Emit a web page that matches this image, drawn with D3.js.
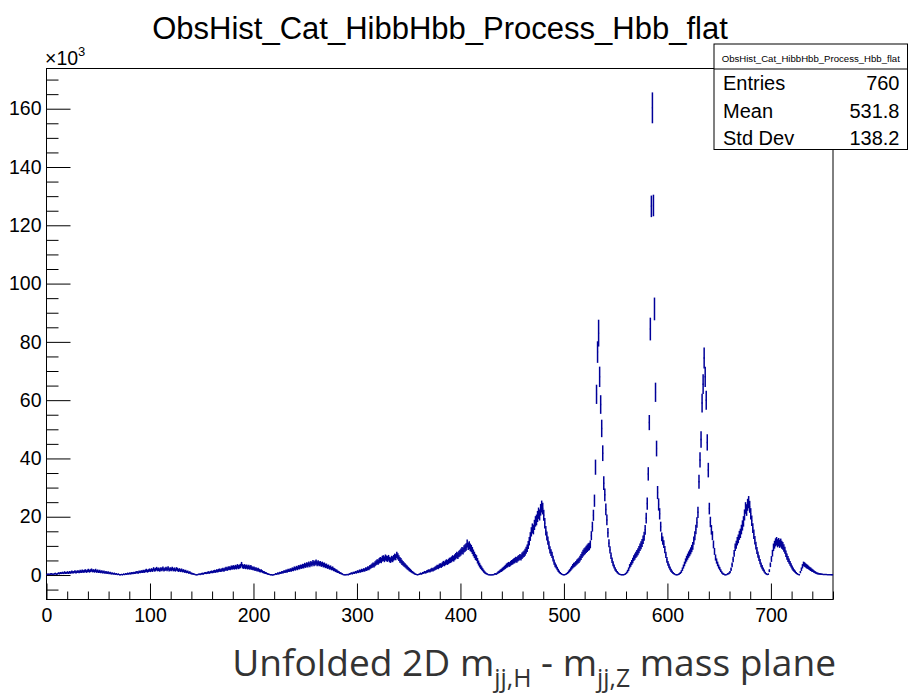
<!DOCTYPE html>
<html>
<head>
<meta charset="utf-8">
<script src="https://cdn.jsdelivr.net/npm/d3@7"></script>
<style>
  body { margin: 0; background: #fff; }
  svg { display: block; }
</style>
</head>
<body>
<svg id="chart" width="908" height="697"></svg>
<script>
// Bin contents (in units of 10^3), one entry per bin, bins 0..759
const counts = [
  0.2,0.3,0.2,0.3,0.4,0.3,0.2,0.4,0.5,0.3,
  0.4,0.6,0.5,0.7,0.6,0.8,0.6,0.9,0.7,0.8,
  0.9,0.7,1.0,0.8,1.1,0.9,1.0,1.2,0.9,1.1,
  1.2,1.0,1.3,1.1,1.4,1.2,1.3,1.5,1.2,1.4,
  1.6,1.3,1.5,1.7,1.4,1.5,1.3,1.6,1.2,1.4,
  1.1,1.3,1.0,1.2,0.9,1.1,0.8,1.0,0.7,0.9,
  0.6,0.8,0.5,0.6,0.4,0.5,0.3,0.4,0.2,0.3,
  0.1,0.1,0.2,0.1,0.3,0.2,0.4,0.3,0.5,0.4,
  0.6,0.5,0.7,0.6,0.8,0.7,0.9,1.0,0.8,1.1,
  1.0,1.2,1.1,1.3,1.2,1.4,1.6,1.3,1.5,1.7,
  1.5,1.8,1.6,2.1,1.7,1.9,2.2,1.8,2.0,1.7,
  2.1,1.9,2.3,1.8,2.0,2.2,1.9,2.4,1.8,2.1,
  1.9,2.2,1.8,2.0,1.7,2.1,1.9,1.6,1.8,1.5,
  1.7,1.4,1.5,1.2,1.3,1.0,1.1,0.8,0.9,0.6,
  0.5,0.4,0.3,0.2,0.1,0.1,0.2,0.3,0.2,0.4,
  0.5,0.4,0.6,0.7,0.6,0.8,0.9,0.8,1.0,1.1,
  1.0,1.2,1.3,1.2,1.5,1.4,1.6,1.7,1.5,1.8,
  1.9,1.7,2.0,2.2,2.0,2.3,2.4,2.2,2.6,2.5,
  2.7,2.5,2.8,2.6,3.0,2.7,2.9,3.1,3.7,3.0,
  2.8,3.0,2.7,2.9,2.6,2.8,2.5,2.7,2.4,2.2,
  2.3,2.0,2.1,1.8,1.9,1.6,1.4,1.5,1.2,1.0,
  0.9,0.7,0.6,0.4,0.3,0.2,0.1,0.1,0.0,0.1,
  0.2,0.4,0.3,0.6,0.5,0.8,0.7,1.0,0.9,1.2,
  1.1,1.4,1.3,1.6,1.5,1.8,1.7,2.0,1.9,2.3,
  2.1,2.5,2.3,2.7,2.6,2.9,2.8,3.1,3.0,3.4,
  3.2,3.6,3.4,3.8,3.5,4.0,3.7,4.3,3.9,4.1,
  4.4,3.9,4.2,3.8,4.0,3.6,3.8,3.4,3.5,3.1,
  3.2,2.8,2.9,2.5,2.6,2.2,2.3,1.9,1.8,1.5,
  1.4,1.1,1.0,0.7,0.6,0.4,0.2,0.1,0.1,0.1,
  0.2,0.1,0.3,0.4,0.6,0.5,0.8,0.7,1.0,0.9,
  1.2,1.1,1.4,1.3,1.6,1.5,1.8,1.7,2.1,2.0,
  2.4,2.3,2.7,2.9,3.2,3.5,3.4,3.9,4.2,4.5,
  4.4,4.9,5.2,5.0,5.6,5.8,5.4,6.0,5.7,5.5,
  5.9,5.3,5.1,5.6,5.4,5.9,6.3,6.1,6.9,6.4,
  5.8,5.2,4.9,4.3,4.0,3.6,3.3,2.9,2.6,2.2,
  1.9,1.6,1.3,1.0,0.8,0.5,0.3,0.2,0.1,0.2,
  0.3,0.5,0.4,0.7,0.8,1.0,0.9,1.2,1.3,1.5,
  1.4,1.7,1.9,1.8,2.1,2.3,2.5,2.8,2.7,3.1,
  3.3,3.2,3.6,4.0,3.8,4.2,4.5,4.3,4.7,5.0,
  5.1,5.4,5.8,5.6,6.1,6.5,6.9,6.6,7.2,7.5,
  7.9,8.4,8.2,9.0,9.3,9.6,10.8,9.9,10.2,9.5,
  9.1,8.4,7.6,6.9,6.2,5.8,4.9,4.1,3.4,2.8,
  2.3,1.8,1.3,0.9,0.6,0.4,0.2,0.1,0.1,0.0,
  0.1,0.1,0.2,0.4,0.3,0.6,0.9,1.1,1.4,1.6,
  1.9,2.2,2.5,2.8,3.2,3.4,3.7,3.6,4.0,4.3,
  4.5,4.8,5.0,5.3,5.2,5.6,5.9,6.2,6.0,6.6,
  7.0,7.3,7.8,8.5,9.2,10.3,11.6,13.2,14.8,16.0,
  15.6,17.2,18.4,18.9,20.1,21.2,20.6,22.4,23.5,22.8,
  20.5,17.8,15.2,13.4,11.8,10.2,8.6,7.7,6.9,5.6,
  4.4,3.5,2.9,2.2,1.6,1.1,0.7,0.4,0.2,0.1,
  0.1,0.2,0.4,0.7,1.1,1.5,2.0,2.5,3.0,3.4,
  3.6,4.0,4.4,4.8,5.1,5.6,6.2,6.9,7.5,8.0,
  8.3,8.8,9.2,9.6,9.8,10.5,13.5,16.6,20.5,25.5,
  37.0,62.0,76.5,83.0,68.0,58.5,50.3,41.8,31.5,27.5,
  22.5,18.9,14.5,10.9,8.6,6.6,5.1,3.9,2.9,2.1,
  1.5,1.0,0.6,0.3,0.2,0.1,0.1,0.1,0.2,0.4,
  0.8,1.3,2.0,3.0,3.6,4.3,5.0,5.8,6.3,6.9,
  7.4,8.0,8.7,9.5,10.2,11.0,12.1,13.3,15.5,19.5,
  24.5,34.7,52.3,84.4,126.5,160.3,126.8,91.3,62.7,43.4,
  28.3,24.2,21.0,16.6,13.1,11.8,10.6,8.7,6.9,5.2,
  4.0,3.1,2.3,1.6,1.1,0.7,0.4,0.2,0.1,0.1,
  0.2,0.4,0.7,1.2,2.0,2.9,3.8,4.8,5.6,6.3,
  7.0,7.6,8.3,9.1,10.0,11.8,13.5,15.6,18.0,21.5,
  32.0,39.5,46.5,59.0,65.5,74.5,68.0,60.0,45.5,36.0,
  22.8,18.2,15.5,13.5,10.5,8.1,6.0,4.8,3.8,2.9,
  2.2,1.5,0.9,0.5,0.3,0.1,0.1,0.2,0.4,0.6,
  1.0,2.0,3.5,5.3,7.4,9.5,10.4,11.6,12.4,13.6,
  14.3,15.6,17.0,18.4,20.6,23.0,22.3,24.1,25.0,23.4,
  21.0,18.6,16.1,14.0,11.9,10.1,8.4,7.0,5.8,4.6,
  3.5,2.7,2.0,1.4,0.8,0.4,0.2,0.3,1.5,3.5,
  5.5,7.5,9.5,10.4,11.2,11.6,10.9,11.3,10.7,11.1,
  10.4,10.0,9.3,8.5,7.3,6.3,5.5,4.8,4.0,3.3,
  2.6,2.0,1.5,1.1,0.7,0.4,0.2,0.1,1.0,2.0,
  3.0,3.8,3.6,3.3,3.0,2.8,2.5,2.2,2.0,1.7,
  1.5,1.2,1.0,0.8,0.6,0.5,0.4,0.35,0.3,0.25,
  0.2,0.2,0.15,0.15,0.1,0.1,0.1,0.1,0.05,0.05
];

// Bin errors (in units of 10^3), same binning
const errors = [
  0.15,0.2,0.15,0.2,0.25,0.2,0.15,0.25,0.25,0.2,
  0.25,0.3,0.3,0.35,0.3,0.35,0.3,0.4,0.35,0.35,
  0.4,0.35,0.4,0.35,0.45,0.4,0.4,0.45,0.4,0.45,
  0.45,0.4,0.5,0.45,0.5,0.45,0.5,0.5,0.45,0.5,
  0.55,0.5,0.5,0.55,0.5,0.5,0.5,0.55,0.45,0.5,
  0.45,0.5,0.4,0.45,0.4,0.45,0.35,0.4,0.35,0.4,
  0.3,0.35,0.3,0.3,0.25,0.3,0.2,0.25,0.15,0.2,
  0.15,0.15,0.15,0.15,0.2,0.15,0.25,0.2,0.3,0.25,
  0.3,0.3,0.35,0.3,0.35,0.35,0.4,0.4,0.35,0.45,
  0.4,0.45,0.45,0.5,0.45,0.5,0.55,0.5,0.5,0.55,
  0.5,0.55,0.55,0.6,0.55,0.6,0.6,0.55,0.6,0.55,
  0.6,0.6,0.65,0.55,0.6,0.6,0.6,0.65,0.55,0.6,
  0.6,0.6,0.55,0.6,0.55,0.6,0.6,0.55,0.55,0.5,
  0.55,0.5,0.5,0.45,0.5,0.4,0.45,0.35,0.4,0.3,
  0.3,0.25,0.2,0.15,0.15,0.15,0.15,0.2,0.15,0.25,
  0.3,0.25,0.3,0.35,0.3,0.35,0.4,0.35,0.4,0.45,
  0.4,0.45,0.5,0.45,0.5,0.5,0.55,0.55,0.5,0.55,
  0.6,0.55,0.6,0.6,0.6,0.65,0.65,0.6,0.7,0.65,
  0.7,0.65,0.7,0.7,0.75,0.7,0.7,0.75,0.8,0.75,
  0.7,0.75,0.7,0.7,0.7,0.7,0.65,0.7,0.65,0.6,
  0.65,0.6,0.6,0.55,0.6,0.55,0.5,0.5,0.45,0.4,
  0.4,0.35,0.3,0.25,0.2,0.15,0.15,0.15,0.1,0.15,
  0.15,0.25,0.2,0.3,0.3,0.35,0.35,0.4,0.4,0.45,
  0.45,0.5,0.5,0.55,0.5,0.55,0.55,0.6,0.6,0.65,
  0.6,0.65,0.65,0.7,0.7,0.7,0.7,0.75,0.75,0.8,
  0.75,0.8,0.8,0.8,0.8,0.85,0.8,0.85,0.85,0.85,
  0.9,0.85,0.85,0.8,0.85,0.8,0.8,0.8,0.8,0.75,
  0.75,0.7,0.7,0.65,0.7,0.6,0.65,0.6,0.55,0.5,
  0.5,0.45,0.4,0.35,0.3,0.25,0.15,0.15,0.15,0.15,
  0.15,0.15,0.2,0.25,0.3,0.3,0.35,0.35,0.4,0.4,
  0.45,0.45,0.5,0.5,0.55,0.5,0.55,0.55,0.6,0.6,
  0.65,0.65,0.7,0.7,0.75,0.8,0.8,0.85,0.85,0.9,
  0.9,0.95,0.95,0.95,1.0,1.0,1.0,1.05,1.0,1.0,
  1.0,0.95,0.95,1.0,1.0,1.0,1.05,1.05,1.1,1.05,
  1.0,0.95,0.95,0.9,0.85,0.8,0.75,0.7,0.7,0.6,
  0.6,0.55,0.5,0.4,0.35,0.3,0.2,0.15,0.15,0.15,
  0.2,0.3,0.25,0.35,0.35,0.4,0.4,0.45,0.5,0.5,
  0.5,0.55,0.6,0.55,0.6,0.65,0.65,0.7,0.7,0.75,
  0.75,0.75,0.8,0.85,0.8,0.85,0.9,0.85,0.9,0.95,
  0.95,1.0,1.0,1.0,1.05,1.05,1.1,1.1,1.1,1.15,
  1.2,1.2,1.2,1.25,1.3,1.3,1.4,1.3,1.35,1.3,
  1.25,1.2,1.15,1.1,1.05,1.0,0.95,0.85,0.8,0.7,
  0.65,0.55,0.5,0.4,0.3,0.25,0.15,0.15,0.15,0.1,
  0.15,0.15,0.15,0.25,0.2,0.3,0.4,0.45,0.5,0.55,
  0.6,0.6,0.65,0.7,0.75,0.8,0.8,0.8,0.85,0.85,
  0.9,0.9,0.95,0.95,0.95,1.0,1.0,1.05,1.0,1.1,
  1.1,1.15,1.2,1.2,1.3,1.35,1.45,1.5,1.6,1.7,
  1.65,1.75,1.8,1.85,1.9,1.95,1.9,2.0,2.05,2.0,
  1.9,1.8,1.65,1.55,1.45,1.35,1.25,1.15,1.1,1.0,
  0.9,0.8,0.7,0.6,0.55,0.45,0.35,0.25,0.15,0.15,
  0.15,0.15,0.25,0.35,0.45,0.5,0.6,0.65,0.75,0.8,
  0.8,0.85,0.9,0.9,0.95,1.0,1.05,1.1,1.15,1.2,
  1.2,1.25,1.3,1.3,1.3,1.35,1.55,1.7,1.9,2.1,
  2.6,3.3,3.7,4.6,3.5,3.2,3.0,2.7,2.35,2.2,
  2.0,1.85,1.6,1.4,1.25,1.1,0.95,0.85,0.7,0.6,
  0.5,0.4,0.3,0.2,0.15,0.15,0.15,0.15,0.15,0.25,
  0.35,0.5,0.6,0.75,0.8,0.85,0.95,1.0,1.05,1.1,
  1.15,1.2,1.25,1.3,1.35,1.4,1.45,1.55,1.65,1.85,
  2.1,2.3,2.6,3.9,3.7,5.3,3.7,3.9,3.3,2.7,
  2.25,2.1,1.95,1.7,1.5,1.45,1.35,1.25,1.1,0.95,
  0.85,0.75,0.65,0.55,0.45,0.35,0.25,0.15,0.15,0.15,
  0.15,0.25,0.35,0.45,0.6,0.7,0.8,0.9,1.0,1.05,
  1.1,1.15,1.2,1.25,1.35,1.45,1.55,1.65,1.8,1.95,
  2.4,2.6,2.85,3.2,3.4,3.6,3.45,3.25,2.8,2.5,
  2.0,1.8,1.65,1.55,1.35,1.2,1.05,0.9,0.8,0.7,
  0.6,0.5,0.4,0.3,0.2,0.15,0.15,0.15,0.25,0.3,
  0.4,0.6,0.8,0.95,1.15,1.3,1.35,1.45,1.5,1.55,
  1.6,1.65,1.75,1.8,1.9,2.0,2.0,2.05,2.1,2.05,
  1.95,1.8,1.7,1.6,1.45,1.35,1.2,1.1,1.0,0.9,
  0.8,0.7,0.6,0.5,0.35,0.25,0.15,0.2,0.5,0.8,
  1.0,1.15,1.3,1.35,1.4,1.45,1.4,1.4,1.4,1.4,
  1.35,1.35,1.3,1.2,1.15,1.05,1.0,0.9,0.85,0.75,
  0.7,0.6,0.5,0.45,0.35,0.25,0.15,0.15,0.4,0.6,
  0.75,0.8,0.8,0.75,0.75,0.7,0.65,0.6,0.6,0.55,
  0.5,0.45,0.4,0.35,0.3,0.3,0.25,0.25,0.2,0.2,
  0.15,0.15,0.15,0.15,0.1,0.1,0.1,0.1,0.1,0.1
];

const xMajorTicks = [0, 100, 200, 300, 400, 500, 600, 700];
const yMajorTicks = [0, 20, 40, 60, 80, 100, 120, 140, 160];
const histTitle = "ObsHist_Cat_HibbHbb_Process_Hbb_flat";
const statLabels = ["Entries", "Mean", "Std Dev"];
const statValues = ["760", "531.8", "138.2"];

const frame = { left: 46.5, right: 833, top: 68.5, bottom: 599.5 };
const rootFont = "'Liberation Sans', Arial, Helvetica, sans-serif";
const lineColor = "#000099";

const svg = d3.select("#chart");

const nBins = counts.length;
const x = d3.scaleLinear().domain([0, nBins]).range([frame.left, frame.right]);
const y = d3.scaleLinear().domain([-8.4, 173.8]).range([frame.bottom, frame.top]);

// Frame
svg.append("rect")
  .attr("x", frame.left).attr("y", frame.top)
  .attr("width", frame.right - frame.left).attr("height", frame.bottom - frame.top)
  .attr("fill", "none").attr("stroke", "#000").attr("stroke-width", 1);

// Y axis: major ticks with labels, minor ticks every 5
const yMinor = d3.range(-5, 174, 5).filter(v => v % 20 !== 0);
const yAxisMinor = svg.append("g").attr("transform", `translate(${frame.left},0)`)
  .call(d3.axisLeft(y).tickValues(yMinor).tickSize(-12).tickFormat(""));
const yAxis = svg.append("g").attr("transform", `translate(${frame.left},0)`)
  .call(d3.axisLeft(y).tickValues(yMajorTicks).tickSize(-24).tickPadding(5).tickFormat(d3.format("d")));

// X axis: major ticks with labels, minor ticks every 20
const xMinor = d3.range(0, nBins + 1, 20).filter(v => v % 100 !== 0);
const xAxisMinor = svg.append("g").attr("transform", `translate(0,${frame.bottom})`)
  .call(d3.axisBottom(x).tickValues(xMinor).tickSize(-8).tickFormat(""));
const xAxis = svg.append("g").attr("transform", `translate(0,${frame.bottom})`)
  .call(d3.axisBottom(x).tickValues(xMajorTicks).tickSize(-16).tickPadding(9).tickFormat(d3.format("d")));

[yAxisMinor, yAxis, xAxisMinor, xAxis].forEach(g => {
  g.select(".domain").remove();
  g.selectAll(".tick line").attr("stroke", "#000").attr("stroke-width", 1);
  g.selectAll(".tick text").attr("font-family", rootFont).attr("font-size", 19.5).attr("fill", "#000");
});

// Exponent marker of the y axis
const expo = svg.append("text").attr("x", 45).attr("y", 65)
  .attr("font-family", rootFont).attr("font-size", 19.5).attr("fill", "#000");
expo.append("tspan").text("\u00d710");
expo.append("tspan").attr("dy", -9).attr("font-size", 13).text("3");

// Histogram drawn with error bars: vertical error line + horizontal bin-width line
const bins = counts.map((v, i) => ({ i, v, e: errors[i] }));
const hist = svg.append("g").attr("stroke", lineColor).attr("stroke-width", 1.5).attr("fill", "none");
hist.selectAll("line.err").data(bins).join("line").attr("class", "err")
  .attr("x1", d => x(d.i + 0.5)).attr("x2", d => x(d.i + 0.5))
  .attr("y1", d => y(d.v - d.e)).attr("y2", d => y(d.v + d.e));
hist.selectAll("line.bw").data(bins).join("line").attr("class", "bw")
  .attr("x1", d => x(d.i)).attr("x2", d => x(d.i + 1))
  .attr("y1", d => y(d.v)).attr("y2", d => y(d.v));

// Title
svg.append("text").attr("x", 440).attr("y", 39)
  .attr("text-anchor", "middle")
  .attr("font-family", rootFont).attr("font-size", 31).attr("fill", "#000")
  .text(histTitle);

// Statistics box
const box = { x0: 714, x1: 907.5, y0: 44, y1: 149.5, head: 69 };
const stats = svg.append("g");
stats.append("rect").attr("x", box.x0).attr("y", box.y0)
  .attr("width", box.x1 - box.x0).attr("height", box.y1 - box.y0)
  .attr("fill", "#fff").attr("stroke", "#000").attr("stroke-width", 1);
stats.append("line").attr("x1", box.x0).attr("x2", box.x1)
  .attr("y1", box.head).attr("y2", box.head).attr("stroke", "#000");
stats.append("text").attr("x", (box.x0 + box.x1) / 2).attr("y", 62)
  .attr("text-anchor", "middle").attr("font-family", rootFont).attr("font-size", 9.6)
  .text(histTitle);
const rowY = [89.5, 118, 145];
statLabels.forEach((lab, k) => {
  stats.append("text").attr("x", 723).attr("y", rowY[k])
    .attr("font-family", rootFont).attr("font-size", 20).text(lab);
  stats.append("text").attr("x", 899.5).attr("y", rowY[k]).attr("text-anchor", "end")
    .attr("font-family", rootFont).attr("font-size", 20).text(statValues[k]);
});

// X axis title with subscripts
const xt = svg.append("text").attr("x", 836).attr("y", 676)
  .attr("text-anchor", "end")
  .attr("font-family", "'Open Sans', 'Noto Sans', sans-serif")
  .attr("font-size", 36).attr("fill", "#333");
xt.append("tspan").text("Unfolded 2D m");
xt.append("tspan").attr("font-size", 24).attr("dy", 11).text("jj,H");
xt.append("tspan").attr("dy", -11).text(" - m");
xt.append("tspan").attr("font-size", 24).attr("dy", 11).text("jj,Z");
xt.append("tspan").attr("dy", -11).text(" mass plane");
// fit the axis title to its span
const targetW = 836 - 232;
const w0 = xt.node().getComputedTextLength();
const s = targetW / w0;
xt.attr("font-size", 36 * s);
xt.selectAll("tspan").each(function () {
  const t = d3.select(this);
  if (t.attr("font-size")) t.attr("font-size", 24 * s);
  if (t.attr("dy")) t.attr("dy", +t.attr("dy") * s);
});
</script>
</body>
</html>
